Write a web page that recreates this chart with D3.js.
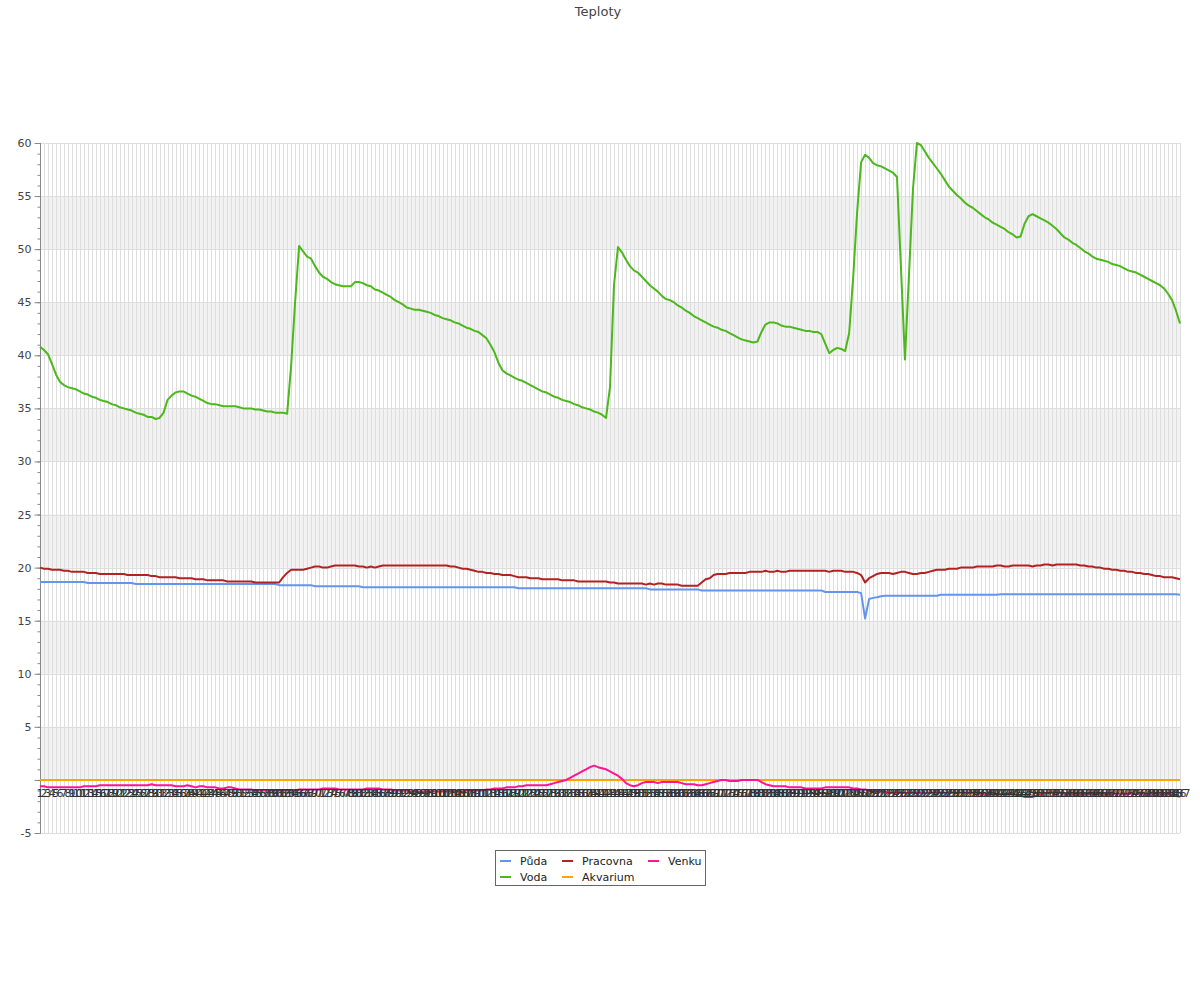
<!DOCTYPE html>
<html>
<head>
<meta charset="utf-8">
<script src="https://cdn.jsdelivr.net/npm/d3@7"></script>
<style>
  html, body { margin: 0; padding: 0; background: #fff; }
  svg { display: block; font-family: "DejaVu Sans", sans-serif; }
</style>
</head>
<body>
<svg id="chart" width="1200" height="1000"></svg>
<script>
const title = "Teploty";
const seriesNames = ["Půda", "Voda", "Pracovna", "Akvarium", "Venku"];
const seriesColors = ["#6495ed", "#4cb81c", "#b22222", "#ffa500", "#ff1493"];
const yTickValues = [-5, 0, 5, 10, 15, 20, 25, 30, 35, 40, 45, 50, 55, 60];

const voda = [
  40.8, 40.5, 40.1, 39.2, 38.2, 37.5, 37.2, 37.0, 36.9, 36.8,
  36.6, 36.4, 36.3, 36.1, 36.0, 35.8, 35.7, 35.6, 35.4, 35.3,
  35.1, 35.0, 34.9, 34.8, 34.6, 34.5, 34.4, 34.2, 34.2, 34.0,
  34.1, 34.6, 35.8, 36.2, 36.5, 36.6, 36.6, 36.4, 36.2, 36.1,
  35.9, 35.7, 35.5, 35.4, 35.4, 35.3, 35.2, 35.2, 35.2, 35.2,
  35.1, 35.0, 35.0, 35.0, 34.9, 34.9, 34.8, 34.7, 34.7, 34.6,
  34.6, 34.6, 34.5, 39.0, 45.0, 50.3, 49.8, 49.3, 49.1, 48.4,
  47.8, 47.4, 47.2, 46.9, 46.7, 46.6, 46.5, 46.5, 46.5, 46.9,
  46.9, 46.8, 46.6, 46.5, 46.2, 46.1, 45.9, 45.7, 45.5, 45.2,
  45.0, 44.8, 44.5, 44.4, 44.3, 44.3, 44.2, 44.1, 44.0, 43.8,
  43.7, 43.5, 43.4, 43.3, 43.1, 43.0, 42.8, 42.6, 42.5, 42.3,
  42.2, 41.9, 41.6, 41.0, 40.3, 39.3, 38.6, 38.3, 38.1, 37.9,
  37.7, 37.6, 37.4, 37.2, 37.0, 36.8, 36.6, 36.5, 36.3, 36.1,
  36.0, 35.8, 35.7, 35.6, 35.4, 35.3, 35.1, 35.0, 34.9, 34.7,
  34.6, 34.4, 34.1, 37.0, 46.6, 50.2, 49.7, 49.0, 48.4, 48.0,
  47.8, 47.4, 47.0, 46.6, 46.3, 46.0, 45.6, 45.3, 45.2, 45.0,
  44.7, 44.5, 44.2, 44.0, 43.7, 43.5, 43.3, 43.1, 42.9, 42.7,
  42.6, 42.4, 42.3, 42.1, 41.9, 41.7, 41.5, 41.4, 41.3, 41.2,
  41.3, 42.2, 42.9, 43.1, 43.1, 43.0, 42.8, 42.7, 42.7, 42.6,
  42.5, 42.4, 42.3, 42.3, 42.2, 42.2, 42.0, 41.1, 40.2, 40.5,
  40.7, 40.6, 40.4, 42.1, 47.3, 53.5, 58.2, 58.9, 58.6, 58.1,
  57.9, 57.8, 57.6, 57.4, 57.2, 56.8, 48.2, 39.6, 47.5, 55.6,
  60.0, 59.8, 59.2, 58.6, 58.1, 57.6, 57.1, 56.5, 55.9, 55.5,
  55.1, 54.8, 54.4, 54.1, 53.9, 53.6, 53.3, 53.0, 52.8, 52.5,
  52.3, 52.1, 51.9, 51.6, 51.4, 51.1, 51.2, 52.4, 53.1, 53.3,
  53.1, 52.9, 52.7, 52.5, 52.2, 51.9, 51.5, 51.1, 50.9, 50.6,
  50.4, 50.1, 49.8, 49.6, 49.3, 49.1, 49.0, 48.9, 48.8, 48.6,
  48.5, 48.4, 48.2, 48.0, 47.9, 47.8, 47.6, 47.4, 47.2, 47.0,
  46.8, 46.6, 46.3, 45.8, 45.2, 44.2, 43.0
];

const pracovna = [
  20.0, 19.9, 19.9, 19.8, 19.8, 19.8, 19.7, 19.7, 19.6, 19.6,
  19.6, 19.6, 19.5, 19.5, 19.5, 19.4, 19.4, 19.4, 19.4, 19.4,
  19.4, 19.4, 19.3, 19.3, 19.3, 19.3, 19.3, 19.3, 19.2, 19.2,
  19.1, 19.1, 19.1, 19.1, 19.1, 19.0, 19.0, 19.0, 19.0, 18.9,
  18.9, 18.9, 18.8, 18.8, 18.8, 18.8, 18.8, 18.7, 18.7, 18.7,
  18.7, 18.7, 18.7, 18.7, 18.6, 18.6, 18.6, 18.6, 18.6, 18.6,
  18.6, 19.1, 19.5, 19.8, 19.8, 19.8, 19.8, 19.9, 20.0, 20.1,
  20.1, 20.0, 20.0, 20.1, 20.2, 20.2, 20.2, 20.2, 20.2, 20.2,
  20.1, 20.1, 20.0, 20.1, 20.0, 20.1, 20.2, 20.2, 20.2, 20.2,
  20.2, 20.2, 20.2, 20.2, 20.2, 20.2, 20.2, 20.2, 20.2, 20.2,
  20.2, 20.2, 20.2, 20.1, 20.1, 20.0, 19.9, 19.9, 19.8, 19.7,
  19.6, 19.6, 19.5, 19.5, 19.4, 19.4, 19.3, 19.3, 19.3, 19.2,
  19.1, 19.1, 19.1, 19.0, 19.0, 19.0, 18.9, 18.9, 18.9, 18.9,
  18.9, 18.8, 18.8, 18.8, 18.8, 18.7, 18.7, 18.7, 18.7, 18.7,
  18.7, 18.7, 18.7, 18.6, 18.6, 18.5, 18.5, 18.5, 18.5, 18.5,
  18.5, 18.5, 18.4, 18.5, 18.4, 18.5, 18.5, 18.4, 18.4, 18.4,
  18.4, 18.3, 18.3, 18.3, 18.3, 18.3, 18.6, 18.9, 19.0, 19.3,
  19.4, 19.4, 19.4, 19.5, 19.5, 19.5, 19.5, 19.5, 19.6, 19.6,
  19.6, 19.6, 19.7, 19.6, 19.6, 19.7, 19.6, 19.6, 19.7, 19.7,
  19.7, 19.7, 19.7, 19.7, 19.7, 19.7, 19.7, 19.7, 19.6, 19.7,
  19.7, 19.7, 19.6, 19.6, 19.6, 19.5, 19.3, 18.6, 19.0, 19.2,
  19.4, 19.5, 19.5, 19.5, 19.4, 19.5, 19.6, 19.6, 19.5, 19.4,
  19.4, 19.5, 19.5, 19.6, 19.7, 19.8, 19.8, 19.8, 19.9, 19.9,
  19.9, 20.0, 20.0, 20.0, 20.0, 20.1, 20.1, 20.1, 20.1, 20.1,
  20.2, 20.2, 20.1, 20.1, 20.2, 20.2, 20.2, 20.2, 20.2, 20.1,
  20.2, 20.2, 20.3, 20.3, 20.2, 20.3, 20.3, 20.3, 20.3, 20.3,
  20.3, 20.2, 20.2, 20.1, 20.1, 20.0, 20.0, 19.9, 19.9, 19.8,
  19.8, 19.7, 19.7, 19.6, 19.6, 19.5, 19.5, 19.4, 19.4, 19.3,
  19.2, 19.2, 19.1, 19.1, 19.1, 19.0, 18.9
];

const puda = [
  18.65, 18.65, 18.65, 18.65, 18.65, 18.65, 18.65, 18.65, 18.65, 18.65,
  18.65, 18.65, 18.55, 18.55, 18.55, 18.55, 18.55, 18.55, 18.55, 18.55,
  18.55, 18.55, 18.55, 18.55, 18.45, 18.45, 18.45, 18.45, 18.45, 18.45,
  18.45, 18.45, 18.45, 18.45, 18.45, 18.45, 18.45, 18.45, 18.45, 18.45,
  18.45, 18.45, 18.45, 18.45, 18.45, 18.45, 18.45, 18.45, 18.45, 18.45,
  18.45, 18.45, 18.45, 18.45, 18.45, 18.45, 18.45, 18.45, 18.45, 18.45,
  18.35, 18.35, 18.35, 18.35, 18.35, 18.35, 18.35, 18.35, 18.35, 18.25,
  18.25, 18.25, 18.25, 18.25, 18.25, 18.25, 18.25, 18.25, 18.25, 18.25,
  18.25, 18.15, 18.15, 18.15, 18.15, 18.15, 18.15, 18.15, 18.15, 18.15,
  18.15, 18.15, 18.15, 18.15, 18.15, 18.15, 18.15, 18.15, 18.15, 18.15,
  18.15, 18.15, 18.15, 18.15, 18.15, 18.15, 18.15, 18.15, 18.15, 18.15,
  18.15, 18.15, 18.15, 18.15, 18.15, 18.15, 18.15, 18.15, 18.15, 18.15,
  18.05, 18.05, 18.05, 18.05, 18.05, 18.05, 18.05, 18.05, 18.05, 18.05,
  18.05, 18.05, 18.05, 18.05, 18.05, 18.05, 18.05, 18.05, 18.05, 18.05,
  18.05, 18.05, 18.05, 18.05, 18.05, 18.05, 18.05, 18.05, 18.05, 18.05,
  18.05, 18.05, 18.05, 17.95, 17.95, 17.95, 17.95, 17.95, 17.95, 17.95,
  17.95, 17.95, 17.95, 17.95, 17.95, 17.95, 17.85, 17.85, 17.85, 17.85,
  17.85, 17.85, 17.85, 17.85, 17.85, 17.85, 17.85, 17.85, 17.85, 17.85,
  17.85, 17.85, 17.85, 17.85, 17.85, 17.85, 17.85, 17.85, 17.85, 17.85,
  17.85, 17.85, 17.85, 17.85, 17.85, 17.85, 17.85, 17.7, 17.7, 17.7,
  17.7, 17.7, 17.7, 17.7, 17.7, 17.7, 17.6, 15.2, 17.05, 17.15,
  17.2, 17.3, 17.35, 17.35, 17.35, 17.35, 17.35, 17.35, 17.35, 17.35,
  17.35, 17.35, 17.35, 17.35, 17.35, 17.35, 17.45, 17.45, 17.45, 17.45,
  17.45, 17.45, 17.45, 17.45, 17.45, 17.45, 17.45, 17.45, 17.45, 17.45,
  17.45, 17.5, 17.5, 17.5, 17.5, 17.5, 17.5, 17.5, 17.5, 17.5,
  17.5, 17.5, 17.5, 17.5, 17.5, 17.5, 17.5, 17.5, 17.5, 17.5,
  17.5, 17.5, 17.5, 17.5, 17.5, 17.5, 17.5, 17.5, 17.5, 17.5,
  17.5, 17.5, 17.5, 17.5, 17.5, 17.5, 17.5, 17.5, 17.5, 17.5,
  17.5, 17.5, 17.5, 17.5, 17.5, 17.5, 17.45
];

const venku = [
  -0.6, -0.6, -0.7, -0.7, -0.7, -0.7, -0.7, -0.7, -0.7, -0.7,
  -0.7, -0.6, -0.6, -0.6, -0.6, -0.5, -0.5, -0.5, -0.5, -0.5,
  -0.5, -0.5, -0.5, -0.5, -0.5, -0.5, -0.5, -0.5, -0.4, -0.5,
  -0.5, -0.5, -0.5, -0.5, -0.6, -0.6, -0.6, -0.5, -0.6, -0.7,
  -0.6, -0.6, -0.7, -0.7, -0.7, -0.8, -0.8, -0.7, -0.7, -0.8,
  -0.9, -0.9, -0.9, -0.9, -1.0, -1.0, -1.0, -1.0, -1.0, -1.0,
  -1.0, -1.0, -1.0, -1.0, -1.0, -0.9, -0.9, -0.9, -0.9, -0.9,
  -0.9, -0.8, -0.8, -0.8, -0.8, -0.9, -0.9, -0.9, -0.9, -0.9,
  -0.9, -0.9, -0.8, -0.8, -0.8, -0.8, -0.9, -0.9, -0.9, -1.0,
  -1.0, -1.0, -1.0, -1.1, -1.1, -1.1, -1.1, -1.1, -1.1, -1.1,
  -1.1, -1.1, -1.1, -1.1, -1.1, -1.1, -1.1, -1.0, -1.0, -1.0,
  -1.0, -1.0, -0.9, -0.9, -0.8, -0.8, -0.8, -0.7, -0.7, -0.7,
  -0.6, -0.6, -0.5, -0.5, -0.5, -0.5, -0.5, -0.5, -0.4, -0.3,
  -0.2, -0.1, 0.0, 0.2, 0.4, 0.6, 0.8, 1.0, 1.2, 1.35,
  1.2, 1.1, 1.0, 0.8, 0.6, 0.4, 0.1, -0.3, -0.5, -0.6,
  -0.5, -0.3, -0.2, -0.2, -0.2, -0.3, -0.2, -0.2, -0.2, -0.2,
  -0.2, -0.3, -0.4, -0.4, -0.4, -0.5, -0.5, -0.4, -0.3, -0.2,
  -0.1, 0.0, 0.0, -0.1, -0.1, -0.1, 0.0, 0.0, 0.0, 0.0,
  0.0, -0.2, -0.4, -0.5, -0.6, -0.6, -0.6, -0.6, -0.7, -0.7,
  -0.7, -0.7, -0.8, -0.8, -0.8, -0.8, -0.8, -0.7, -0.7, -0.7,
  -0.7, -0.7, -0.7, -0.7, -0.8, -0.8, -0.9, -0.9, -1.0, -1.1,
  -1.1, -1.1, -1.1, -1.2, -1.2, -1.2, -1.2, -1.2, -1.2, -1.2,
  -1.2, -1.2, -1.2, -1.2, -1.2, -1.2, -1.2, -1.2, -1.2, -1.2,
  -1.2, -1.2, -1.2, -1.2, -1.2, -1.2, -1.3, -1.3, -1.3, -1.3,
  -1.3, -1.3, -1.3, -1.3, -1.3, -1.4, -1.5, -1.6, -1.6, -1.6,
  -1.5, -1.3, -1.2, -1.2, -1.2, -1.2, -1.2, -1.3, -1.3, -1.3,
  -1.3, -1.3, -1.3, -1.3, -1.3, -1.3, -1.3, -1.3, -1.3, -1.3,
  -1.3, -1.3, -1.3, -1.3, -1.3, -1.3, -1.3, -1.3, -1.3, -1.3,
  -1.3, -1.3, -1.3, -1.3, -1.4, -1.5, -1.6
];

const akvarium = voda.map(() => 0);
const categories = voda.map((_, i) => String(i + 1));

const seriesValues = [puda, voda, pracovna, akvarium, venku];

const svg = d3.select("#chart");
const pL = 40, pR = 1180, pT = 143, pB = 833;

const x = d3.scalePoint().domain(categories).range([pL, pR]);
const y = d3.scaleLinear().domain([-5, 60]).range([pB, pT]);

// title
svg.append("text").attr("x", 598).attr("y", 16).attr("text-anchor", "middle")
  .attr("font-size", 13).attr("fill", "#444").text(title);

// bands
const bandStarts = [0, 10, 20, 30, 40, 50];
svg.append("g").selectAll("rect").data(bandStarts).join("rect")
  .attr("x", pL).attr("width", pR - pL)
  .attr("y", d => y(d + 5)).attr("height", d => y(d) - y(d + 5))
  .attr("fill", "#f2f2f2");

// vertical grid
svg.append("g").selectAll("line").data(categories).join("line")
  .attr("x1", d => Math.round(x(d)) + 0.5).attr("x2", d => Math.round(x(d)) + 0.5)
  .attr("y1", pT).attr("y2", pB)
  .attr("stroke", "#dedede").attr("stroke-width", 1);

// horizontal grid
svg.append("g").selectAll("line").data(yTickValues).join("line")
  .attr("x1", pL).attr("x2", pR)
  .attr("y1", d => Math.round(y(d)) + 0.5).attr("y2", d => Math.round(y(d)) + 0.5)
  .attr("stroke", "#dedede");

// zero line
svg.append("line").attr("x1", pL).attr("x2", pR)
  .attr("y1", Math.round(y(0)) + 0.5).attr("y2", Math.round(y(0)) + 0.5)
  .attr("stroke", "#888");

// y axis
const minor = d3.range(-5, 61, 1);
const yAxisMinor = d3.axisLeft(y).tickValues(minor).tickSize(3).tickFormat("");
const gAxisMinor = svg.append("g").attr("transform", `translate(${pL + 0.5},0)`).call(yAxisMinor);
const yAxisMajor = d3.axisLeft(y).tickValues(yTickValues).tickSize(6).tickPadding(3)
  .tickFormat(d => d === 0 ? "" : String(d));
const gAxis = svg.append("g").attr("transform", `translate(${pL + 0.5},0)`).call(yAxisMajor);
[gAxisMinor, gAxis].forEach(g => {
  g.selectAll("path").attr("stroke", "#888");
  g.selectAll("line").attr("stroke", "#888");
  g.selectAll("text").attr("fill", "#444").attr("font-size", 11)
    .attr("font-family", "DejaVu Sans, sans-serif");
});
gAxisMinor.select("path").remove();
gAxis.select("path").attr("d", `M0,${pT}V${pB}`);

// series lines
const line = d3.line().x((d, i) => x(categories[i])).y(d => y(d));
seriesValues.forEach((vals, k) => {
  svg.append("path").datum(vals)
    .attr("d", line).attr("fill", "none")
    .attr("stroke", seriesColors[k]).attr("stroke-width", 2)
    .attr("stroke-linejoin", "round");
});

// category labels
svg.append("g").selectAll("text").data(categories).join("text")
  .attr("x", d => x(d)).attr("y", y(0) + 17)
  .attr("text-anchor", "middle").attr("font-size", 11).attr("fill", "#333")
  .text(d => d);

// legend
const lg = svg.append("g");
lg.append("rect").attr("x", 495.5).attr("y", 850.5).attr("width", 210).attr("height", 35)
  .attr("fill", "#fff").attr("stroke", "#666");
const legendPos = [[500, 861], [500, 877], [562, 861], [562, 877], [648, 861]];
seriesNames.forEach((name, k) => {
  const [lx, ly] = legendPos[k];
  lg.append("line").attr("x1", lx).attr("x2", lx + 11).attr("y1", ly).attr("y2", ly)
    .attr("stroke", seriesColors[k]).attr("stroke-width", 2);
  lg.append("text").attr("x", lx + 20).attr("y", ly + 4).attr("font-size", 11)
    .attr("fill", "#222").text(name);
});
</script>
</body>
</html>
